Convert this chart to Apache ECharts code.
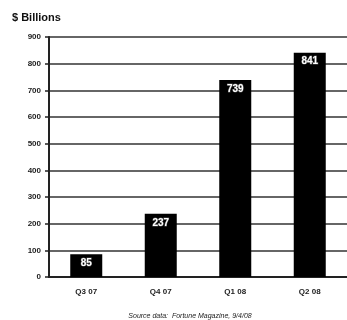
<!DOCTYPE html>
<html>
<head>
<meta charset="utf-8">
<script src="https://cdn.jsdelivr.net/npm/echarts@6/dist/echarts.min.js"></script>
<style>
  html, body { margin: 0; padding: 0; background: #fff; }
  #chart { width: 347px; height: 320px; }
</style>
</head>
<body>
<div id="chart"></div>
<script>
// Quarterly totals, $ billions
const quarters = ['Q3 07', 'Q4 07', 'Q1 08', 'Q2 08'];
const values = [85, 237, 739, 841];
const yTicks = [0, 100, 200, 300, 400, 500, 600, 700, 800, 900];

const chart = echarts.init(document.getElementById('chart'), null, { renderer: 'canvas' });

chart.setOption({
  animation: false,
  backgroundColor: '#fff',
  title: [
    {
      text: '$ Billions',
      left: 7, top: 7,
      textStyle: { fontFamily: 'Liberation Sans', fontSize: 11, fontWeight: 'bold', color: '#111' }
    },
    {
      text: 'Source data:  Fortune Magazine, 9/4/08',
      left: 185, top: 308, textAlign: 'center',
      textStyle: { fontFamily: 'Liberation Sans', fontSize: 7, fontStyle: 'italic', fontWeight: 'normal', color: '#222' }
    }
  ],
  grid: { left: 49, right: -10, top: 37, bottom: 43 },
  xAxis: {
    type: 'category',
    data: quarters,
    axisLine: { lineStyle: { color: '#222', width: 2 } },
    axisTick: { show: false },
    axisLabel: { fontFamily: 'Liberation Sans', fontSize: 8, fontWeight: 'bold', color: '#222', margin: 11 }
  },
  yAxis: {
    type: 'value',
    min: yTicks[0],
    max: yTicks[yTicks.length - 1],
    interval: 100,
    axisLine: { show: true, lineStyle: { color: '#222', width: 2 } },
    axisTick: { show: true, length: 4, lineStyle: { color: '#222', width: 1.5 } },
    axisLabel: { fontFamily: 'Liberation Sans', fontSize: 8, fontWeight: 'bold', color: '#222', margin: 8 },
    splitLine: { show: true, lineStyle: { color: '#333', width: 1.5 } }
  },
  series: [{
    type: 'bar',
    data: values,
    barWidth: 32,
    itemStyle: { color: '#000' },
    label: {
      show: true,
      position: 'insideTop',
      distance: 4,
      fontFamily: 'Liberation Sans',
      fontSize: 10,
      fontWeight: 'bold',
      color: '#fff',
      textBorderColor: '#555',
      textBorderWidth: 1
    }
  }]
});
</script>
</body>
</html>
